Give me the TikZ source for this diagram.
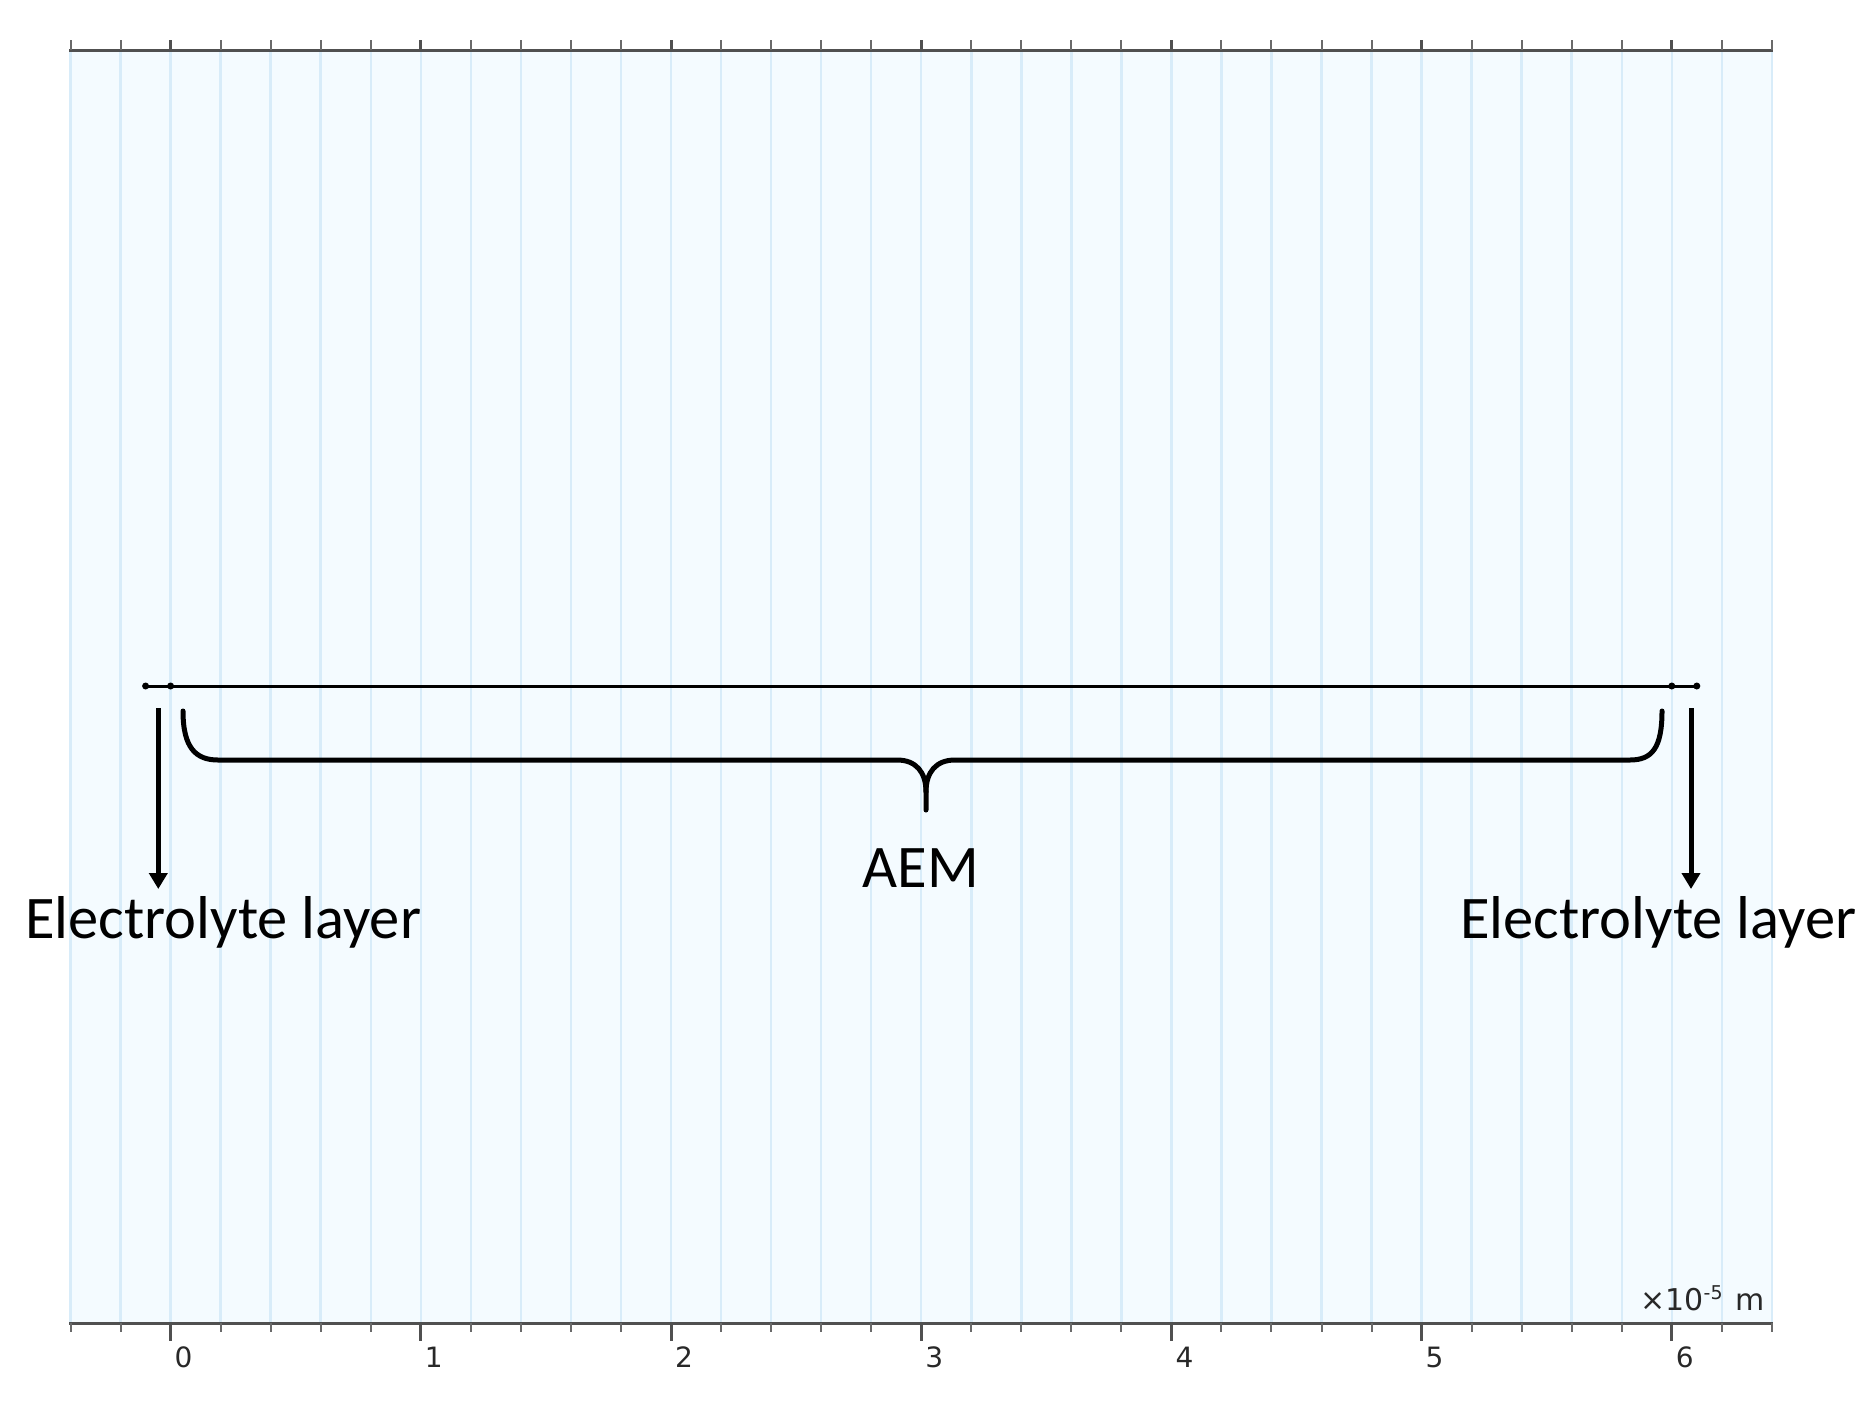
\documentclass[tikz,border=0pt]{standalone}
\usepackage{fontspec}
\setmainfont{Carlito}
\newfontfamily\axisfont{DejaVu Sans}
\usetikzlibrary{arrows.meta}
\definecolor{bgfill}{RGB}{244,251,255}
\definecolor{gridc}{RGB}{216,236,249}
\definecolor{axisc}{RGB}{80,80,80}
\definecolor{labc}{RGB}{40,40,40}
\begin{document}
\begin{tikzpicture}[x=1pt,y=-1pt,
  gridline/.style={gridc, line width=2.5pt},
  axisline/.style={axisc, line width=3pt},
  minortick/.style={axisc!85, line width=2pt},
  majortick/.style={axisc, line width=3pt},
  ticklabel/.style={font=\axisfont\fontsize{28}{30}\selectfont, text=labc, inner sep=0pt},
  biglabel/.style={font=\fontsize{60.5}{66}\selectfont, inner sep=0pt},
  domainline/.style={black, line width=3pt},
  bracestyle/.style={black, line width=5pt, line cap=round},
  arrowstyle/.style={black, line width=5pt, -{Triangle[width=18pt,length=16pt]}},
  ptdot/.style={circle, fill=black, inner sep=0pt, minimum size=7pt}
]
\useasboundingbox (0,0) rectangle (1871,1411);
% plot area
\fill[bgfill] (69,50) rectangle (1773,1323);
\foreach \k in {-2,...,32} {
  \pgfmathsetmacro\xx{170.6+50.04*\k}
  \draw[gridline] (\xx,50) -- (\xx,1323);
}
% axes
\draw[axisline] (69,50) -- (1773,50);
\draw[axisline] (69,1323) -- (1773,1323);
\foreach \k in {-2,...,32} {
  \pgfmathsetmacro\xx{170.6+50.04*\k}
  \pgfmathtruncatemacro\mm{mod(\k+10,5)}
  \ifnum\mm=0
    \draw[majortick] (\xx,50) -- (\xx,40);
    \draw[majortick] (\xx,1323) -- (\xx,1341);
  \else
    \draw[minortick] (\xx,50) -- (\xx,40);
    \draw[minortick] (\xx,1323) -- (\xx,1332);
  \fi
}
\foreach \n in {0,...,6} {
  \node[ticklabel, anchor=base] (lab\n) at ({170.6+250.2*\n+13},1367) {\n};
}
\node[ticklabel, font=\axisfont\fontsize{30}{32}\selectfont, anchor=base east] (unit) at (1765,1310)
  {×10\raisebox{11pt}{\fontsize{19}{19}\selectfont -5}\hspace{13pt}m};
% domain line with points
\node[ptdot] (p1) at (145.6,686) {};
\node[ptdot] (p2) at (170.6,686) {};
\node[ptdot] (p3) at (1671.8,686) {};
\node[ptdot] (p4) at (1696.8,686) {};
\draw[domainline] (p1.center) -- (p4.center);
% arrows
\coordinate (la1) at (158.3,708);
\coordinate (la2) at (158.3,889);
\coordinate (ra1) at (1691,708);
\coordinate (ra2) at (1691,889);
\draw[arrowstyle] (la1) -- (la2);
\draw[arrowstyle] (ra1) -- (ra2);
% brace
\coordinate (bl) at (183,711);
\coordinate (br) at (1662,711);
\coordinate (bt) at (926,810);
\draw[bracestyle] (bl) .. controls (183,748) and (196,760) .. (218,760)
  -- (897,760) .. controls (916,760) and (926,772) .. (926,792) -- (bt);
\draw[bracestyle] (926,792) .. controls (926,772) and (936,760) .. (955,760)
  -- (1630,760) .. controls (1652,760) and (1662,748) .. (br);
% labels
\node[biglabel, anchor=base west] (ell) at (25,938) {Electrolyte layer};
\node[biglabel, anchor=base west] (elr) at (1460,938) {Electrolyte layer};
\node[biglabel, anchor=base] (aem) at (921,887) {AEM};
\end{tikzpicture}
\end{document}
